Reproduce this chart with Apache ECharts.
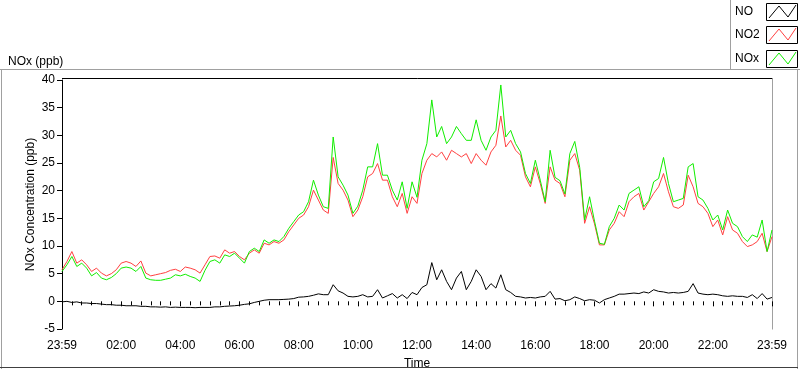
<!DOCTYPE html>
<html>
<head>
<meta charset="utf-8">
<script src="https://cdn.jsdelivr.net/npm/echarts@6/dist/echarts.min.js"></script>
<style>html,body{margin:0;padding:0;background:#fff}#c{width:800px;height:369px}</style>
</head>
<body>
<div id="c"></div>
<script>
// Sampling step of the readings (minutes after 23:59 of the previous day)
const stepMinutes = 10;
const seriesNames = ['NO', 'NO2', 'NOx'];
const xTickLabels = ['23:59','02:00','04:00','06:00','08:00','10:00','12:00','14:00','16:00','18:00','20:00','22:00','23:59'];
const yTicks = [-5, 0, 5, 10, 15, 20, 25, 30, 35, 40];

const no = [
-0.1,0.0,-0.2,-0.1,-0.3,-0.3,-0.4,-0.4,-0.5,-0.6,
-0.6,-0.7,-0.7,-0.8,-0.8,-0.8,-0.9,-0.9,-1.0,-1.0,
-1.05,-1.0,-1.1,-1.05,-1.1,-1.1,-1.1,-1.15,-1.1,-1.1,
-1.1,-1.0,-1.0,-0.9,-0.85,-0.8,-0.7,-0.55,-0.45,-0.2,
0.0,0.2,0.3,0.3,0.3,0.35,0.4,0.5,0.75,0.8,
0.9,1.1,1.35,1.2,1.2,3.0,1.9,1.5,0.9,0.8,
0.9,1.2,0.8,0.9,2.1,0.6,1.0,1.4,0.6,1.2,
0.5,1.6,1.2,2.5,3.0,7.0,3.9,5.7,3.6,2.1,
4.2,5.4,2.1,3.6,5.7,4.5,2.1,3.2,2.4,4.8,
2.1,1.6,0.9,0.8,0.6,0.7,0.6,0.8,0.9,1.8,
0.4,0.5,0.1,0.3,0.8,0.5,0.1,0.3,0.2,-0.3,
0.3,0.6,0.9,1.3,1.3,1.4,1.5,1.4,1.7,1.5,
2.1,1.8,1.7,1.5,1.6,1.5,1.6,1.8,3.2,1.5,
1.3,1.2,1.3,1.2,1.0,0.9,1.0,0.9,0.9,0.7,
1.2,0.5,1.4,0.4,0.7
];
const no2 = [
5.7,7.2,9.0,6.9,7.5,6.6,5.4,6.0,5.1,4.6,
5.0,5.7,6.9,7.2,6.9,6.3,7.3,5.1,4.6,4.8,
5.0,5.2,5.6,5.8,5.4,6.2,6.0,5.7,5.1,6.6,
8.1,8.2,7.8,9.3,8.7,9.0,8.1,7.5,8.7,9.3,
8.7,10.5,10.2,10.8,10.5,11.1,12.6,13.8,15.0,15.6,
17.1,20.1,18.3,16.5,15.9,26.0,21.3,20.1,18.3,15.3,
16.5,18.9,22.5,23.1,24.9,21.9,21.9,18.9,17.1,19.5,
15.9,18.9,17.7,23.1,25.5,26.7,26.1,27.0,25.5,27.3,
26.7,26.1,26.7,24.9,26.7,25.5,24.6,27.0,28.2,33.5,
27.9,29.1,27.3,26.4,22.5,20.7,24.3,21.3,17.7,24.3,
21.9,21.3,18.9,25.5,26.7,23.7,14.1,17.1,14.0,10.2,
10.2,12.9,14.1,16.2,15.3,18.0,18.9,19.5,16.5,18.0,
19.5,20.7,23.1,19.8,17.1,16.8,17.4,22.8,20.7,17.7,
17.1,15.9,13.5,14.7,12.0,15.3,12.9,12.3,10.8,9.9,
10.2,10.8,12.3,9.0,11.7
];
const nox = [
5.4,6.6,8.1,6.3,6.9,6.0,4.6,5.2,4.2,3.9,
4.3,5.0,6.0,6.2,6.0,5.4,6.3,4.2,3.9,3.8,
3.8,4.0,4.2,4.8,4.6,4.9,4.5,4.2,3.6,5.6,
7.2,7.5,6.9,8.4,8.1,8.7,7.8,6.9,9.0,9.6,
9.0,11.1,10.5,11.1,10.8,11.7,13.2,14.4,15.6,16.2,
18.0,21.9,19.2,17.1,16.8,29.7,22.5,21.0,19.2,15.9,
17.2,20.1,24.3,24.3,28.5,22.8,22.8,20.1,18.3,21.6,
16.8,21.6,18.8,25.5,28.5,36.4,29.7,31.6,28.5,29.7,
31.6,30.3,29.1,29.1,32.8,29.1,27.3,29.7,30.9,39.1,
29.7,30.9,28.5,27.0,23.1,21.3,25.5,21.9,18.0,27.3,
22.4,21.8,19.4,26.7,28.9,24.2,14.7,18.9,14.5,10.5,
10.3,13.5,15.0,17.4,16.5,19.5,20.1,20.7,17.1,18.2,
21.6,22.2,26.0,21.3,18.0,18.3,18.6,24.3,24.9,18.9,
18.3,16.8,14.7,15.6,12.9,16.5,14.1,13.5,11.7,10.8,
12.0,11.6,14.7,9.0,12.9
];

const colors = ['#000000', '#ff4040', '#11ee00'];
const toPairs = arr => arr.map((v, i) => [i * stepMinutes, v]);
const seriesData = [no, no2, nox];

const chart = echarts.init(document.getElementById('c'), null, {renderer: 'canvas'});
const FONT = 'Liberation Sans, Arial, sans-serif';

// Legend drawn as boxed swatches
const legendGraphics = [];
seriesNames.forEach((name, i) => {
  const by = [3, 26, 50][i];
  legendGraphics.push({type: 'text', left: 735, top: by + 3, style: {text: name, font: '12px ' + FONT, fill: '#000'}});
  legendGraphics.push({type: 'rect', shape: {x: 766.5, y: by + 0.5, width: 31, height: 17}, style: {fill: '#fff', stroke: '#000', lineWidth: 1}});
  const bx = 766;
  legendGraphics.push({type: 'polyline', shape: {points: [[bx + 3, by + 15], [bx + 13, by + 3], [bx + 22, by + 14], [bx + 30, by + 2]]}, style: {stroke: colors[i], lineWidth: 1, fill: null}});
});

chart.setOption({
  animation: false,
  backgroundColor: '#fff',
  textStyle: {fontFamily: FONT},
  title: {text: 'NOx (ppb)', left: 3, top: 51, textStyle: {fontSize: 12, fontWeight: 'normal', color: '#000', fontFamily: FONT}},
  grid: {left: 62, right: 28, top: 80, bottom: 40, show: false, containLabel: false, outerBoundsMode: 'none'},
  xAxis: {
    type: 'value', min: 0, max: 1440, interval: 120,
    name: 'Time', nameLocation: 'middle', nameGap: 29,
    nameTextStyle: {fontSize: 12, color: '#000', fontFamily: FONT},
    axisLine: {show: false},
    axisTick: {show: true, length: 5, lineStyle: {color: '#000'}},
    minorTick: {show: true, splitNumber: 6, length: 4, lineStyle: {color: '#000'}},
    splitLine: {show: false},
    axisLabel: {margin: 11, fontSize: 12, color: '#000', fontFamily: FONT,
      formatter: v => xTickLabels[Math.round(v / 120)] || ''}
  },
  yAxis: {
    type: 'value', min: yTicks[0], max: yTicks[yTicks.length - 1], interval: 5,
    name: 'NOx Concentration (ppb)', nameLocation: 'middle', nameGap: 25, nameRotate: 90,
    nameMoveOverlap: false,
    nameTextStyle: {fontSize: 12, color: '#000', fontFamily: FONT},
    axisLine: {show: true, lineStyle: {color: '#000', width: 1}},
    axisTick: {show: true, length: 5, lineStyle: {color: '#000'}},
    splitLine: {show: false},
    axisLabel: {margin: 7, fontSize: 12, color: '#000', fontFamily: FONT}
  },
  series: seriesNames.map((name, i) => ({
    name, type: 'line', data: toPairs(seriesData[i]), showSymbol: false, symbol: 'none',
    lineStyle: {color: colors[i], width: 1}, itemStyle: {color: colors[i]}, z: 2 + i
  })),
  graphic: [
    {type: 'line', shape: {x1: 0, y1: 69.5, x2: 800, y2: 69.5}, style: {stroke: '#a0a0a0', lineWidth: 1}},
    {type: 'line', shape: {x1: 1.5, y1: 69.5, x2: 1.5, y2: 369}, style: {stroke: '#a0a0a0', lineWidth: 1}},
    {type: 'line', shape: {x1: 797.5, y1: 69.5, x2: 797.5, y2: 369}, style: {stroke: '#a0a0a0', lineWidth: 1}},
    {type: 'line', shape: {x1: 0, y1: 367.5, x2: 798, y2: 367.5}, style: {stroke: '#404040', lineWidth: 1}},
    {type: 'line', shape: {x1: 730.5, y1: 0, x2: 730.5, y2: 69.5}, style: {stroke: '#a0a0a0', lineWidth: 1}},
    {type: 'line', shape: {x1: 62, y1: 78.5, x2: 772.5, y2: 78.5}, style: {stroke: '#000', lineWidth: 1}},
    {type: 'line', shape: {x1: 772.5, y1: 78.5, x2: 772.5, y2: 329.5}, style: {stroke: '#a0a0a0', lineWidth: 1}},
    ...legendGraphics
  ]
});
</script>
</body>
</html>
